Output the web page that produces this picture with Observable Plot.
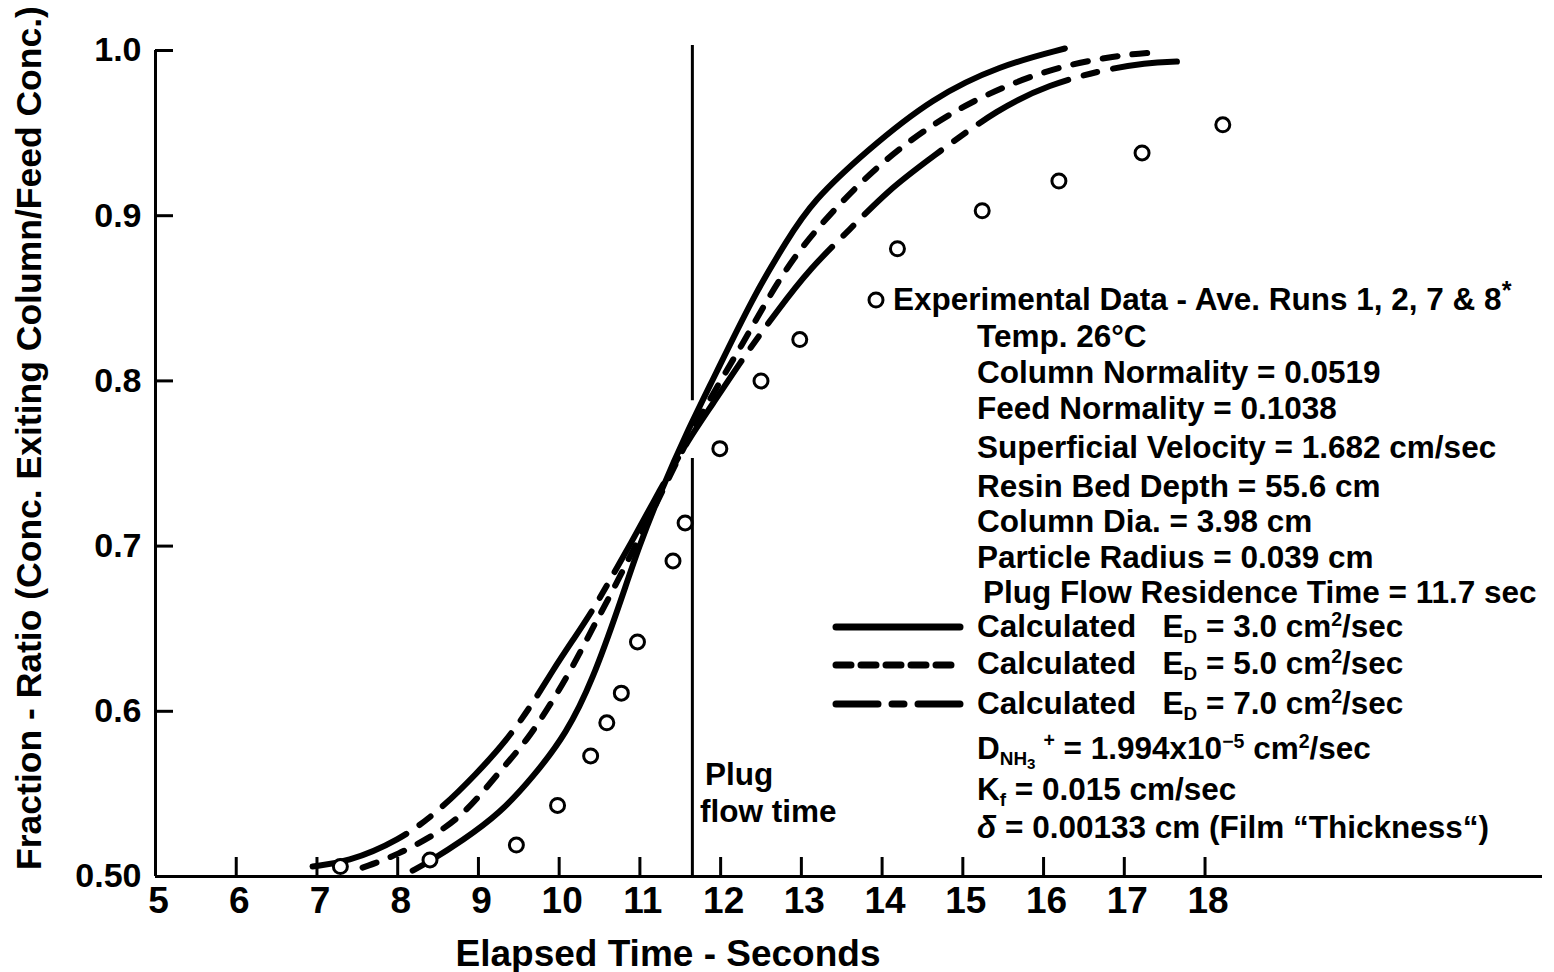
<!DOCTYPE html>
<html><head><meta charset="utf-8">
<script src="https://cdn.jsdelivr.net/npm/d3@7"></script>
<script src="https://cdn.jsdelivr.net/npm/@observablehq/plot@0.6"></script>
<style>
body{margin:0;background:#fff;}
#wrap{position:relative;width:1554px;height:972px;font-family:"Liberation Sans",Arial,Helvetica,sans-serif;font-weight:bold;color:#000;overflow:hidden;}
#wrap svg{position:absolute;left:0;top:0;}
.t{position:absolute;white-space:nowrap;line-height:1;transform:translateY(-50%);font-size:31.5px;}
.t sub{font-size:0.6em;vertical-align:-0.3em;line-height:0;}
.t sub sub{font-size:0.8em;vertical-align:-0.25em;}
.t sup{font-size:0.62em;vertical-align:0.6em;line-height:0;}
.sw{position:absolute;transform:translateY(-50%);}
</style></head><body><div id="wrap"></div>
<script>
// ---- data ----
const expTime  = [7.29, 8.40, 9.47, 9.98, 10.39, 10.59, 10.77, 10.97, 11.41, 11.56, 11.99, 12.50, 12.98, 14.19, 15.24, 16.19, 17.22, 18.22];
const expRatio = [0.506, 0.510, 0.519, 0.543, 0.573, 0.593, 0.611, 0.642, 0.691, 0.714, 0.759, 0.800, 0.825, 0.880, 0.903, 0.921, 0.938, 0.955];

const ed3Time  = [8.185, 8.395, 8.804, 9.263, 9.672, 10.093, 10.415, 10.744, 10.991, 11.264, 11.572, 11.927, 12.398, 12.819, 13.141, 13.810, 14.628, 15.458, 16.264];
const ed3Ratio = [0.5036, 0.5091, 0.5218, 0.5381, 0.5599, 0.5866, 0.6190, 0.6640, 0.7004, 0.7337, 0.7680, 0.8030, 0.8505, 0.8850, 0.9090, 0.9395, 0.9716, 0.9909, 1.0012];

const ed5Time  = [7.565, 7.986, 8.556, 8.854, 9.102, 9.349, 9.597, 9.845, 10.093, 10.291, 10.465, 10.601, 10.948, 11.283, 11.617, 11.927, 12.274, 12.522, 12.893, 13.389, 13.971, 14.628, 15.297, 16.115, 16.908, 17.354];
const ed5Ratio = [0.5054, 0.5127, 0.5278, 0.5400, 0.5539, 0.5684, 0.5823, 0.6005, 0.6205, 0.6386, 0.6550, 0.6671, 0.7004, 0.7337, 0.7670, 0.7942, 0.8226, 0.8444, 0.8747, 0.9031, 0.9316, 0.9558, 0.9740, 0.9897, 0.9970, 0.9988];

const ed7Time  = [6.945, 7.367, 8.024, 8.519, 8.978, 9.349, 9.672, 9.919, 10.167, 10.415, 10.626, 10.874, 11.245, 11.592, 11.890, 12.299, 12.695, 13.104, 13.600, 14.071, 14.591, 15.458, 16.078, 16.698, 17.280, 17.652];
const ed7Ratio = [0.5061, 0.5085, 0.5218, 0.5400, 0.5623, 0.5823, 0.6047, 0.6247, 0.6429, 0.6610, 0.6792, 0.7004, 0.7337, 0.7639, 0.7851, 0.8154, 0.8420, 0.8680, 0.8916, 0.9153, 0.9346, 0.9655, 0.9794, 0.9879, 0.9927, 0.9933];

const plugTime = 11.65;
const plugY1 = [1.003, 0.753];
const plugY2 = [0.788, 0.500];

const xTicks = [5, 6, 7, 8, 9, 10, 11, 12, 13, 14, 15, 16, 17, 18];
const yTicks = [0.5, 0.6, 0.7, 0.8, 0.9, 1.0];
const yTickLabels = ["0.50", "0.6", "0.7", "0.8", "0.9", "1.0"];
const xDomain = [5, 22.18];
const yDomain = [0.5, 1.0];

// ---- tables built from the arrays ----
const zip = (t, r) => t.map((d, i) => ({t: d, r: r[i]}));
const exp = zip(expTime, expRatio);
const ed3 = zip(ed3Time, ed3Ratio);
const ed5 = zip(ed5Time, ed5Ratio);
const ed7 = zip(ed7Time, ed7Ratio);
const plugSegs = plugY1.map((d, i) => ({x: plugTime, y1: d, y2: plugY2[i]}));

const W = 1554, H = 972, ML = 155, MR = 12, MT = 50, MB = 96;
const FW = W - ML - MR, FH = H - MT - MB;
const font = '"Liberation Sans", Arial, Helvetica, sans-serif';

const plot = Plot.plot({
  width: W, height: H,
  marginLeft: ML, marginRight: MR, marginTop: MT, marginBottom: MB,
  x: {domain: xDomain},
  y: {domain: yDomain},
  style: {fontFamily: font, fontWeight: "bold", color: "black", background: "transparent", overflow: "visible"},
  marks: [
    Plot.ruleX(plugSegs, {x: "x", y1: "y1", y2: "y2", strokeWidth: 3, stroke: "black"}),
    Plot.line(ed3, {x: "t", y: "r", curve: "basis", stroke: "black", strokeWidth: 6, strokeLinecap: "round"}),
    Plot.line(ed5, {x: "t", y: "r", curve: "basis", stroke: "black", strokeWidth: 6, strokeLinecap: "round", strokeDasharray: "15,15"}),
    Plot.line(ed7, {x: "t", y: "r", curve: "basis", stroke: "black", strokeWidth: 6, strokeLinecap: "round", strokeDasharray: "100,16,14,16"}),
    Plot.dot(exp, {x: "t", y: "r", r: 7, stroke: "black", fill: "white", strokeWidth: 3}),
    Plot.ruleX([xDomain[0]], {y1: yDomain[0], y2: yDomain[1], strokeWidth: 3, stroke: "black"}),
    Plot.ruleY([yDomain[0]], {x1: xDomain[0], x2: xDomain[1], strokeWidth: 3, stroke: "black"}),
    Plot.tickY(yTicks, {y: d => d, insetRight: FW - 18, strokeWidth: 3, stroke: "black"}),
    Plot.tickX(xTicks, {x: d => d, insetTop: FH - 19, strokeWidth: 3, stroke: "black"}),
    Plot.axisY({ticks: yTicks, tickSize: 0, tickPadding: 14, fontSize: 34, fontWeight: "bold",
      tickFormat: d => yTickLabels[yTicks.findIndex(v => Math.abs(v - d) < 1e-9)], label: null}),
    Plot.axisX({ticks: xTicks, tickSize: 0, tickPadding: 10, fontSize: 37, fontWeight: "bold", label: null, dx: 3})
  ]
});

const wrap = document.getElementById("wrap");
wrap.appendChild(plot);

function txt(html, left, cy, extra) {
  const d = document.createElement("div");
  d.className = "t";
  d.style.left = left + "px";
  d.style.top = cy + "px";
  if (extra) Object.assign(d.style, extra);
  d.innerHTML = html;
  wrap.appendChild(d);
  return d;
}
function swatch(dash, left, cy) {
  const ns = "http://www.w3.org/2000/svg";
  const s = document.createElementNS(ns, "svg");
  s.setAttribute("width", 134); s.setAttribute("height", 14);
  s.setAttribute("class", "sw");
  s.style.left = left + "px"; s.style.top = cy + "px";
  const l = document.createElementNS(ns, "line");
  l.setAttribute("x1", 4); l.setAttribute("x2", 128); l.setAttribute("y1", 7); l.setAttribute("y2", 7);
  l.setAttribute("stroke", "black"); l.setAttribute("stroke-width", 7); l.setAttribute("stroke-linecap", "round");
  if (dash) l.setAttribute("stroke-dasharray", dash);
  s.appendChild(l);
  wrap.appendChild(s);
}
function circle(cx, cy) {
  const ns = "http://www.w3.org/2000/svg";
  const s = document.createElementNS(ns, "svg");
  s.setAttribute("width", 22); s.setAttribute("height", 22);
  s.setAttribute("class", "sw");
  s.style.left = (cx - 11) + "px"; s.style.top = cy + "px";
  const c = document.createElementNS(ns, "circle");
  c.setAttribute("cx", 11); c.setAttribute("cy", 11); c.setAttribute("r", 7);
  c.setAttribute("fill", "white"); c.setAttribute("stroke", "black"); c.setAttribute("stroke-width", 3);
  s.appendChild(c);
  wrap.appendChild(s);
}

// annotation block
circle(876, 300);
txt("Experimental Data - Ave. Runs 1, 2, 7 &amp; 8<sup style='font-size:0.8em;vertical-align:0.45em'>*</sup>", 893, 300);
txt("Temp. 26°C", 977, 337);
txt("Column Normality = 0.0519", 977, 373);
txt("Feed Normality = 0.1038", 977, 409);
txt("Superficial Velocity = 1.682 cm/sec", 977, 448);
txt("Resin Bed Depth = 55.6 cm", 977, 487);
txt("Column Dia. = 3.98 cm", 977, 522);
txt("Particle Radius = 0.039 cm", 977, 558);
txt("Plug Flow Residence Time = 11.7 sec", 983, 593);
swatch(null, 832, 627);
txt("Calculated&nbsp;&nbsp; E<sub>D</sub> = 3.0 cm<sup>2</sup>/sec", 977, 627);
swatch("15,10", 832, 665);
txt("Calculated&nbsp;&nbsp; E<sub>D</sub> = 5.0 cm<sup>2</sup>/sec", 977, 664);
swatch("42,14,12,14", 832, 704);
txt("Calculated&nbsp;&nbsp; E<sub>D</sub> = 7.0 cm<sup>2</sup>/sec", 977, 704);
txt("D<sub>NH<sub>3</sub></sub><sup style='margin-left:8px'>+</sup> = 1.994x10<sup>−5</sup> cm<sup>2</sup>/sec", 977, 749);
txt("K<sub>f</sub> = 0.015 cm/sec", 977, 790);
txt("<i>δ</i> = 0.00133 cm (Film “Thickness“)", 977, 828);
txt("Plug", 705, 775);
txt("flow time", 700, 812);

// axis titles
txt("Elapsed Time - Seconds", 668, 953, {fontSize: "37px", transform: "translate(-50%,-50%)"});
txt("Fraction - Ratio (Conc. Exiting Column/Feed Conc.)", 30, 438, {fontSize: "35.5px", transform: "translate(-50%,-50%) rotate(-90deg)"});
</script></body></html>
